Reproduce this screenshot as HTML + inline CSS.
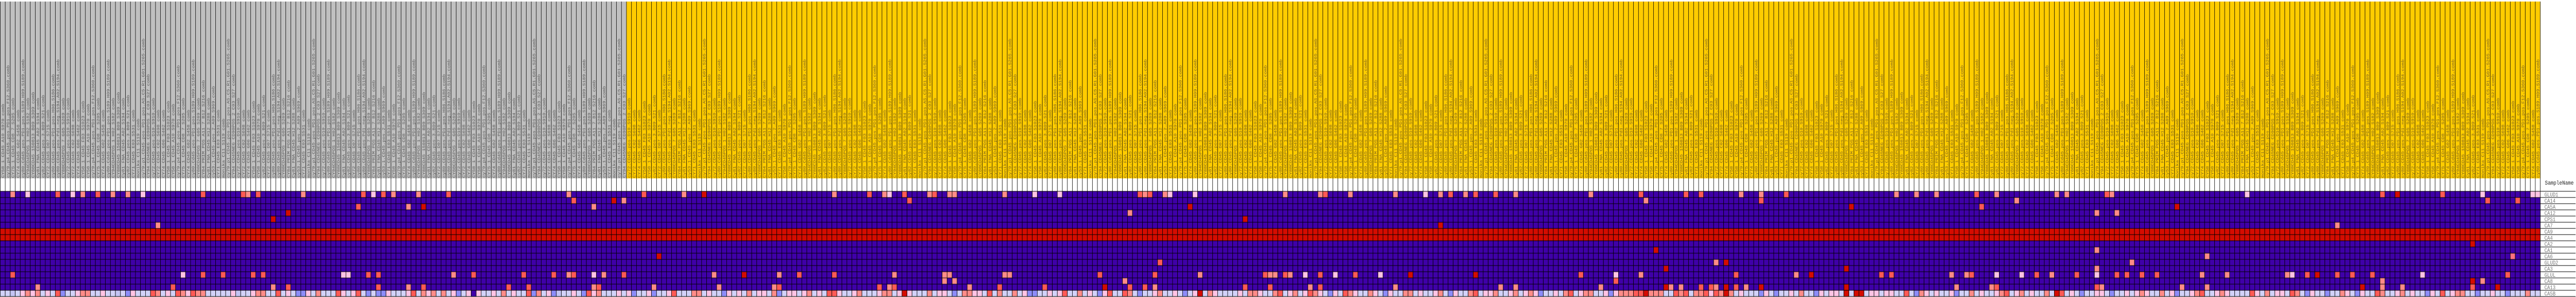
<!DOCTYPE html>
<html><head><meta charset="utf-8">
<style>
html,body{margin:0;padding:0;background:#fff;width:100%;height:576px;overflow:hidden}
svg{display:block;overflow:hidden;width:100%;height:576px}
</style></head>
<body>
<svg id="chart" viewBox="0 0 6170 576" preserveAspectRatio="none" xmlns="http://www.w3.org/2000/svg"></svg>
<script>
// ---- data ----
const rowNames = ["GLUD1","CA14","CA5A","CA12","CPS1","CA7","CA9","CA4","CA2","CA1","CA6","GLUD2","CA3","GLUL","CA8","CA13","CA5B"];
const rowBase = ["p","p","p","p","p","p","d","d","p","p","p","p","p","p","p","p","l"];
const nSamples = 507;
const greyGroupCount = 125;
const hlGLUD1 = [[2,"s"],[5,"k"],[11,"r"],[14,"k"],[16,"s"],[19,"r"],[22,"s"],[25,"s"],[28,"k"],[40,"r"],[48,"r"],[49,"s"],[51,"r"],[60,"s"],[72,"r"],[74,"k"],[76,"r"],[78,"s"],[83,"s"],[89,"r"],[113,"s"],[128,"r"],[136,"s"],[140,"d"],[166,"s"],[173,"r"],[176,"s"],[177,"k"],[180,"r"],[185,"s"],[186,"r"],[189,"s"],[190,"s"],[200,"s"],[206,"k"],[211,"k"],[227,"r"],[228,"s"],[229,"r"],[232,"s"],[233,"k"],[238,"k"],[256,"s"],[263,"s"],[264,"r"],[269,"s"],[278,"s"],[284,"k"],[287,"s"],[289,"r"],[292,"s"],[294,"r"],[298,"r"],[302,"s"],[317,"s"],[327,"r"],[336,"r"],[339,"r"],[347,"s"],[351,"s"],[356,"r"],[378,"s"],[382,"s"],[386,"s"],[394,"r"],[398,"s"],[410,"s"],[412,"s"],[420,"r"],[421,"s"],[448,"k"],[475,"r"],[478,"d"],[487,"r"],[495,"k"],[505,"k"],[506,"k"]];
const hlCA14 = [[114,"r"],[122,"d"],[124,"s"],[181,"r"],[328,"s"],[351,"r"],[402,"s"],[496,"r"],[502,"r"]];
const hlCA5A = [[71,"r"],[81,"s"],[84,"d"],[118,"s"],[237,"d"],[369,"d"],[395,"r"],[434,"d"]];
const hlCA12 = [[57,"d"],[225,"s"],[418,"s"],[422,"s"]];
const hlCPS1 = [[54,"d"],[248,"d"]];
const hlCA7 = [[31,"s"],[287,"d"],[466,"s"]];
const hlCA9 = [];
const hlCA4 = [];
const hlCA2 = [[493,"d"]];
const hlCA1 = [[330,"d"],[418,"s"]];
const hlCA6 = [[131,"d"],[440,"s"],[501,"m"]];
const hlGLUD2 = [[231,"r"],[342,"s"],[344,"d"],[425,"s"]];
const hlCA3 = [[332,"d"],[368,"d"],[418,"s"]];
const hlGLUL = [[2,"r"],[36,"k"],[40,"r"],[44,"r"],[50,"r"],[52,"r"],[68,"k"],[69,"k"],[73,"r"],[75,"r"],[90,"s"],[94,"r"],[104,"r"],[110,"r"],[113,"s"],[114,"r"],[118,"k"],[120,"s"],[124,"r"],[142,"s"],[148,"d"],[155,"s"],[159,"r"],[166,"r"],[178,"s"],[188,"s"],[189,"s"],[200,"s"],[201,"s"],[219,"r"],[230,"r"],[239,"s"],[252,"r"],[253,"s"],[254,"s"],[256,"r"],[257,"s"],[260,"k"],[263,"r"],[266,"k"],[270,"r"],[275,"k"],[281,"d"],[294,"d"],[315,"r"],[322,"k"],[327,"s"],[346,"r"],[358,"s"],[361,"d"],[375,"r"],[377,"r"],[389,"s"],[392,"s"],[393,"r"],[398,"k"],[403,"k"],[406,"r"],[409,"s"],[414,"r"],[418,"k"],[422,"r"],[424,"r"],[427,"r"],[430,"r"],[439,"s"],[444,"s"],[456,"s"],[457,"k"],[460,"r"],[462,"d"],[466,"r"],[469,"r"],[473,"r"],[483,"k"],[500,"r"]];
const hlCA8 = [[188,"s"],[190,"s"],[224,"s"],[322,"r"],[475,"s"],[493,"d"],[495,"s"]];
const hlCA13 = [[7,"s"],[34,"r"],[54,"s"],[57,"r"],[75,"r"],[81,"s"],[84,"r"],[101,"r"],[105,"r"],[118,"s"],[119,"r"],[130,"s"],[143,"s"],[154,"s"],[155,"r"],[175,"r"],[177,"s"],[178,"r"],[193,"s"],[199,"r"],[208,"r"],[220,"d"],[225,"r"],[228,"r"],[230,"s"],[248,"r"],[253,"r"],[261,"s"],[263,"r"],[278,"s"],[299,"s"],[302,"s"],[319,"s"],[332,"d"],[333,"s"],[335,"s"],[339,"r"],[341,"r"],[342,"s"],[344,"d"],[346,"r"],[348,"s"],[351,"d"],[368,"d"],[390,"s"],[397,"s"],[398,"r"],[418,"r"],[419,"s"],[435,"s"],[440,"s"],[471,"d"],[475,"s"],[479,"s"],[493,"r"],[498,"d"]];
const hlCA5B = [];
const rowHighlights = [hlGLUD1,hlCA14,hlCA5A,hlCA12,hlCPS1,hlCA7,hlCA9,hlCA4,hlCA2,hlCA1,hlCA6,hlGLUD2,hlCA3,hlGLUL,hlCA8,hlCA13,hlCA5B];
const ca5bValues =
 "llvlkskslklrbllkssllkllvlbklllrslklrskrsslllllkvll"+
 "kssllrlklbbklslllrklkrlblbbklllkrlskslslkblkpkllkl"+
 "slkllrbslkbvllklbrkslllklkbllkbllkrlllsslkllbklkls"+
 "lkklsblkklkslklrrkllkslllksslkdklllslkklblsskklrls"+
 "llslkbbllklkrllslklbkrllrslbllksllklblkdlskllllkls"+
 "skllsrlkslkrsklbklrskllsklbkllsslkllkslbkllsrlkksl"+
 "lkslkskbllklsrlkssllkbksssrrdsssllrsrlssrkrsdslkll"+
 "lbklbllklsllbklkkldlddlkklkkllrlbsklkllkbllslkllks"+
 "rlkslkllsldrlklbllkklbllklkskllslkbllksrllkskllllr"+
 "klslkklrslbkllbllsklbkllrsllkslkllbklrlkssllbllkllbllls";
const labelStems = ["CY58_1_CD45_A10_S970_comb","Cy81_FNA_CD45_A02_S194_comb","Cy81_FNA_CD45_H12_S288_comb","CY72_CD45_C02_S698_comb",
 "cy80.Cd45.pos.PD1.pos.S189.H09.S189.comb","cy80.CD45.pos.Pd1.neg.S194.A02.S194.comb","cy79.p1.CD45.pos.PD1.pos.AS.C5.R1.G01.S265.comb",
 "cy79.p4.CD45.pos.PD1.pos.F12.S360.comb","cy82.CD45.pos.3.B09.S21.comb","cy53.1.CD45.pos.2.A09.S969.comb","CY74_CD45_G06_S462_comb",
 "CY94CD45POS_1_H02_S182_comb","CY88CD45POS_7_G05_S269_comb","CY94_CD45NEG_CD90POS_2_C03_S27_comb","CY75_1_CD45_CD8_7_S205_comb",
 "CY72_CD45_D07_S715_comb","CY71_CD45_E03_S531_comb","CY58_1_CD45_F03_S1023_comb","CY88CD45_150813_B09_S309_comb","CY84_PRIM_POS_A11_7_B12_S216_comb",
 "cy72.CD45.pos.D10.S910.comb","CY74_CD45_G02_S458_comb","cy80.CD45.pos.PD1.pos.H06.S186.comb","monika_C11_S119_comb"];
const colors = {p:"#3f00a8",d:"#d40c00",s:"#ff8c88",r:"#ff5a55",m:"#ff7080",k:"#ffc4e4",l:"#d2d2f8",v:"#c4c4f4",b:"#8c8cf8"};

// ---- geometry ----
const svgNS = "http://www.w3.org/2000/svg";
const svg = document.getElementById("chart");
const colW = 12, xStart = 0.5, bandTop = 3, bandBottom = 346, heatTop = 371, rowH = 12;
const xScale = i => xStart + i * colW;
const yScale = r => heatTop + r * rowH;
const right = xScale(nSamples);

function mk(tag, attrs){const e=document.createElementNS(svgNS,tag);for(const k in attrs)e.setAttribute(k,attrs[k]);return e;}

const gBand = mk("g",{});


svg.appendChild(gBand);
const greyBand = mk("rect",{x:xScale(0),y:bandTop,width:xScale(greyGroupCount)-xScale(0),height:bandBottom-bandTop,fill:"#c0c0c0"});


gBand.appendChild(greyBand);
const yellowBand = mk("rect",{x:xScale(greyGroupCount),y:bandTop,width:right-xScale(greyGroupCount),height:bandBottom-bandTop,fill:"#ffcc00"});


gBand.appendChild(yellowBand);

const gLab = mk("g",{"font-family":"Liberation Mono, monospace","font-size":"9.6"});


svg.appendChild(gLab);
for(let i=0;i<nSamples;i++){
  const stem = labelStems[(i*7+Math.floor(i/13))%labelStems.length];
  const lab = stem.replace(/_/g," ");
  const x = xScale(i)+9.5, y = bandBottom-1;
  const t = mk("text",{x:x,y:y,transform:`rotate(-90 ${x} ${y})`,fill: i<greyGroupCount?"#5a5a5a":"#7a6420"});
  
  
  t.textContent = lab;
  gLab.appendChild(t);
}

const gGap = mk("g",{});


svg.appendChild(gGap);
gGap.appendChild(mk("rect",{x:xScale(0),y:bandBottom,width:right-xScale(0),height:heatTop-bandBottom,fill:"#fff"}));

const gHeat = mk("g",{stroke:"#000","stroke-width":"1"});


svg.appendChild(gHeat);
for(let r=0;r<rowNames.length;r++){
  const vals = new Array(nSamples).fill(rowBase[r]);
  if(rowNames[r]==="CA5B"){for(let i=0;i<nSamples;i++)vals[i]=ca5bValues[i]||"l";}
  rowHighlights[r].forEach(([c,v])=>{if(c<nSamples)vals[c]=v;});
  for(let i=0;i<nSamples;i++){
    const cell = mk("rect",{x:xScale(i),y:yScale(r),width:colW,height:rowH,fill:colors[vals[i]]});
    
    
    gHeat.appendChild(cell);
  }
}

const gLines = mk("g",{stroke:"#000","stroke-width":"1"});


svg.appendChild(gLines);
for(let i=0;i<=nSamples;i++){
  gLines.appendChild(mk("line",{x1:xScale(i),y1:bandTop,x2:xScale(i),y2:heatTop}));
}

const gRow = mk("g",{"font-family":"Liberation Mono, monospace","font-size":"11"});


svg.appendChild(gRow);
for(let r=0;r<=rowNames.length;r++){
  gRow.appendChild(mk("line",{x1:right,y1:yScale(r),x2:6169,y2:yScale(r),stroke:"#000","stroke-width":"1"}));
}
for(let r=0;r<rowNames.length;r++){
  const t = mk("text",{x:right+10,y:yScale(r)+10,fill:"#777"});
  
  
  t.textContent = rowNames[r];
  gRow.appendChild(t);
}
const sn = mk("text",{x:right+11,y:358,fill:"#222","font-family":"Liberation Mono, monospace","font-size":"11.5"});


sn.textContent="SampleName";
svg.appendChild(sn);
</script>
</body></html>
